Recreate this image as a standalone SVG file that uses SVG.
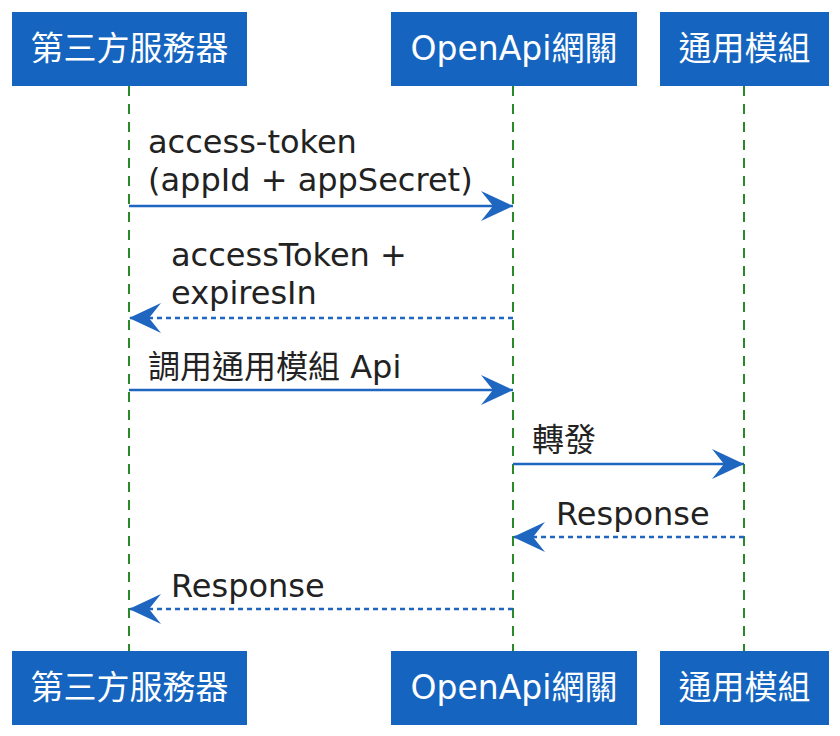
<svg xmlns="http://www.w3.org/2000/svg" width="840" height="736" viewBox="0 0 840 736">
<style>
.box{fill:#1565c0}
.bt{fill:#fff;font-family:"DejaVu Sans","Noto Sans CJK TC",sans-serif;font-size:33px;text-anchor:middle}
.life{stroke:#2a8a2a;stroke-width:2;stroke-dasharray:10 8;fill:none}
.msg{stroke:#1f66c1;stroke-width:2.5;fill:none}
.dot{stroke-dasharray:5 4}
.lbl{fill:#222;font-family:"DejaVu Sans","Noto Sans CJK TC",sans-serif;font-size:32px}
</style>
<defs>
<marker id="ah" viewBox="0 0 32 30" refX="32" refY="15" markerWidth="32" markerHeight="30" markerUnits="userSpaceOnUse" orient="auto">
<path d="M0,0 L32,15 L0,30 L12,15 Z" fill="#1f66c1"/>
</marker>
</defs>
<g id="lifelines">
<line class="life" x1="129" y1="86" x2="129" y2="651"/>
<line class="life" x1="513" y1="86" x2="513" y2="651"/>
<line class="life" x1="744" y1="86" x2="744" y2="651"/>
</g>
<g id="p1"><rect class="box" x="12" y="12" width="235" height="74"/><text class="bt" x="129.5" y="60">第三方服務器</text></g>
<g id="p2"><rect class="box" x="391" y="12" width="246" height="74"/><text class="bt" x="514" y="60">OpenApi網關</text></g>
<g id="p3"><rect class="box" x="660" y="12" width="169" height="74"/><text class="bt" x="744.5" y="60">通用模組</text></g>
<g id="p1b"><rect class="box" x="12" y="651" width="235" height="74"/><text class="bt" x="129.5" y="699">第三方服務器</text></g>
<g id="p2b"><rect class="box" x="391" y="651" width="246" height="74"/><text class="bt" x="514" y="699">OpenApi網關</text></g>
<g id="p3b"><rect class="box" x="660" y="651" width="169" height="74"/><text class="bt" x="744.5" y="699">通用模組</text></g>
<g id="connectors">
<line class="msg" x1="129" y1="206" x2="513" y2="206" marker-end="url(#ah)"/>
<line class="msg dot" x1="513" y1="318" x2="129" y2="318" marker-end="url(#ah)"/>
<line class="msg" x1="129" y1="390" x2="513" y2="390" marker-end="url(#ah)"/>
<line class="msg" x1="513" y1="464" x2="744" y2="464" marker-end="url(#ah)"/>
<line class="msg dot" x1="744" y1="537" x2="513" y2="537" marker-end="url(#ah)"/>
<line class="msg dot" x1="513" y1="609" x2="129" y2="609" marker-end="url(#ah)"/>
</g>
<g id="labels">
<text class="lbl" x="148" y="153">access-token</text>
<text class="lbl" x="148" y="191">(appId + appSecret)</text>
<text class="lbl" x="171" y="266">accessToken +</text>
<text class="lbl" x="171" y="304">expiresIn</text>
<text class="lbl" x="148" y="378">調用通用模組 Api</text>
<text class="lbl" x="532" y="451">轉發</text>
<text class="lbl" x="556" y="525">Response</text>
<text class="lbl" x="171" y="597">Response</text>
</g>
</svg>
